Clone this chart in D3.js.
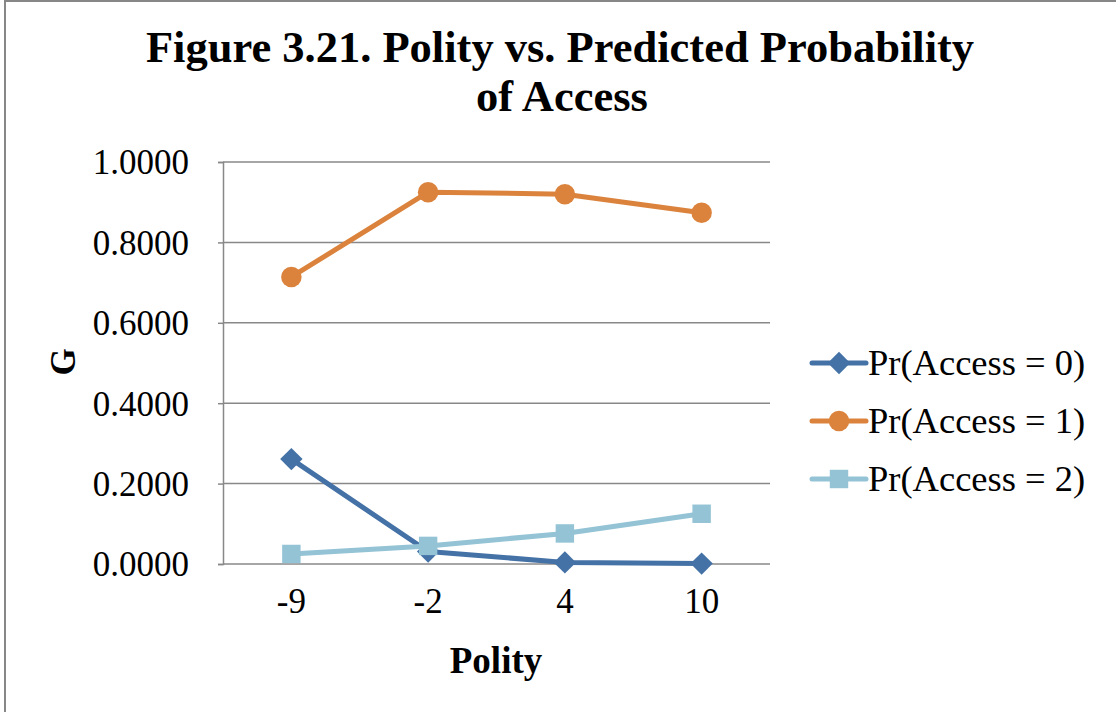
<!DOCTYPE html>
<html>
<head>
<meta charset="utf-8">
<script src="https://cdn.jsdelivr.net/npm/d3@7"></script>
<style>
  html, body { margin: 0; padding: 0; background: #fff; }
  svg { display: block; }
</style>
</head>
<body>
<svg id="chart" width="1116" height="712"></svg>
<script>
// Polity categories on the x axis
const polity = ["-9", "-2", "4", "10"];
// Predicted probabilities for each access level
const access0 = [0.2610, 0.0310, 0.0040, 0.0010];
const access1 = [0.7140, 0.9250, 0.9200, 0.8740];
const access2 = [0.0250, 0.0450, 0.0760, 0.1250];
const seriesNames = ["Pr(Access = 0)", "Pr(Access = 1)", "Pr(Access = 2)"];
const yTicks = [0, 0.2, 0.4, 0.6, 0.8, 1.0];

const colors = ["#4471a6", "#db833c", "#93c3d5"];
const shapes = ["diamond", "circle", "square"];

const series = [access0, access1, access2].map((vals, i) => ({
  name: seriesNames[i],
  color: colors[i],
  shape: shapes[i],
  values: vals.map((v, j) => ({ cat: polity[j], v }))
}));

const svg = d3.select("#chart");
const serif = "'Liberation Serif', 'Times New Roman', serif";

// outer chart frame (top and left edges visible)
svg.append("line").attr("x1", 5).attr("x2", 1116).attr("y1", 1).attr("y2", 1)
  .attr("stroke", "#878787").attr("stroke-width", 2);
svg.append("line").attr("x1", 5).attr("x2", 5).attr("y1", 0).attr("y2", 712)
  .attr("stroke", "#878787").attr("stroke-width", 2);

const plot = { left: 223, right: 770, top: 162, bottom: 564 };

const x = d3.scaleBand().domain(polity).range([plot.left, plot.right]);
const y = d3.scaleLinear().domain([0, 1]).range([plot.bottom, plot.top]);

// title
const title = svg.append("text")
  .attr("font-family", serif).attr("font-weight", "bold")
  .attr("font-size", 44.5).attr("text-anchor", "middle").attr("fill", "#000");
title.append("tspan").attr("x", 560).attr("y", 62).text("Figure 3.21. Polity vs. Predicted Probability");
title.append("tspan").attr("x", 562).attr("y", 111).text("of Access");

// horizontal gridlines
svg.append("g").selectAll("line").data(yTicks).join("line")
  .attr("x1", plot.left).attr("x2", plot.right)
  .attr("y1", d => y(d)).attr("y2", d => y(d))
  .attr("stroke", "#888").attr("stroke-width", 1.5);

// y axis
const yAxis = svg.append("g")
  .attr("transform", `translate(${plot.left},0)`)
  .call(d3.axisLeft(y).tickValues(yTicks).tickFormat(d3.format(".4f")).tickSize(5).tickPadding(29));
yAxis.select(".domain").attr("stroke", "#888").attr("stroke-width", 1.5);
yAxis.selectAll(".tick line").attr("stroke", "#888").attr("stroke-width", 1.5);
yAxis.selectAll(".tick text")
  .attr("font-family", serif).attr("font-size", 35).attr("fill", "#000").attr("dy", "0.34em");

// x axis
const xAxis = svg.append("g")
  .attr("transform", `translate(0,${plot.bottom})`)
  .call(d3.axisBottom(x).tickSize(0).tickPadding(34));
xAxis.select(".domain").remove();
xAxis.selectAll(".tick text")
  .attr("font-family", serif).attr("font-size", 35).attr("fill", "#000").attr("dy", "0.42em");

// axis titles
svg.append("text").attr("x", 496).attr("y", 673)
  .attr("font-family", serif).attr("font-weight", "bold").attr("font-size", 37)
  .attr("text-anchor", "middle").text("Polity");
svg.append("text")
  .attr("transform", "translate(75,362) rotate(-90)")
  .attr("font-family", serif).attr("font-weight", "bold").attr("font-size", 35)
  .attr("text-anchor", "middle").text("G");

function symbolFor(shape) {
  if (shape === "circle") return d3.symbol(d3.symbolCircle, 330);
  if (shape === "square") return d3.symbol(d3.symbolSquare, 340);
  return d3.symbol(d3.symbolDiamond2, 320);
}

const cx = d => x(d.cat) + x.bandwidth() / 2;
const line = d3.line().x(cx).y(d => y(d.v));

// series lines and markers
const g = svg.append("g");
series.forEach(s => {
  g.append("path").datum(s.values)
    .attr("d", line).attr("fill", "none")
    .attr("stroke", s.color).attr("stroke-width", 5)
    .attr("stroke-linejoin", "round").attr("stroke-linecap", "round");
});
series.forEach(s => {
  g.append("g").selectAll("path").data(s.values).join("path")
    .attr("d", symbolFor(s.shape))
    .attr("transform", d => `translate(${cx(d)},${y(d.v)})`)
    .attr("fill", s.color);
});

// legend
const legend = svg.append("g");
series.forEach((s, i) => {
  const ly = 363 + i * 58;
  legend.append("line").attr("x1", 812).attr("x2", 866).attr("y1", ly).attr("y2", ly)
    .attr("stroke", s.color).attr("stroke-width", 5).attr("stroke-linecap", "round");
  legend.append("path").attr("d", symbolFor(s.shape))
    .attr("transform", `translate(839,${ly})`)
    .attr("fill", s.color);
  legend.append("text").attr("x", 868).attr("y", ly).attr("dy", "0.34em")
    .attr("font-family", serif).attr("font-size", 36.5).attr("fill", "#000").text(s.name);
});
</script>
</body>
</html>
